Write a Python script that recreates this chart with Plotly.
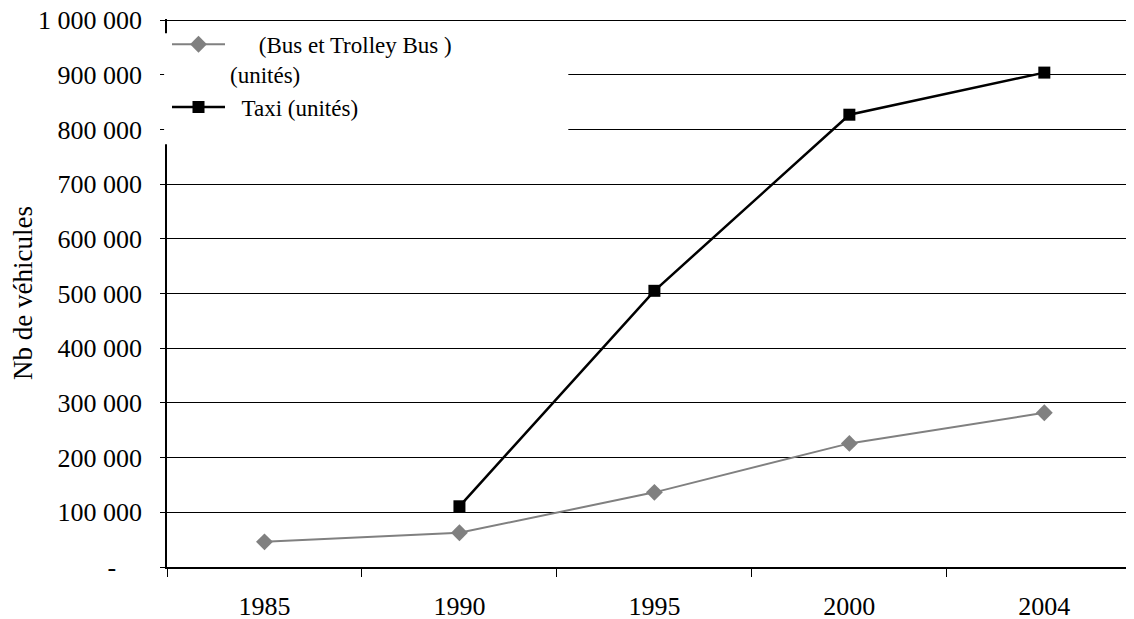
import plotly.graph_objects as go

years = ["1985", "1990", "1995", "2000", "2004"]
bus = [46000, 62500, 136500, 226000, 282000]
taxi = [None, 111000, 505000, 827000, 904000]

y_ticks = [0, 100000, 200000, 300000, 400000, 500000, 600000, 700000, 800000, 900000, 1000000]
nb = "\u00a0"
y_labels = ["-" + nb * 4] + [f"{v:,}".replace(",", nb) for v in y_ticks[1:]]

serif = '"Liberation Serif", "Times New Roman", serif'

fig = go.Figure()
fig.add_trace(go.Scatter(
    x=years, y=bus, mode="lines+markers",
    name=nb * 5 + "(Bus et Trolley Bus )<br>(unités)",
    line=dict(color="#808080", width=2),
    marker=dict(symbol="diamond", size=13, color="#808080"),
))
fig.add_trace(go.Scatter(
    x=years, y=taxi, mode="lines+markers",
    name=nb * 2 + "Taxi (unités)",
    line=dict(color="black", width=2.5),
    marker=dict(symbol="square", size=12, color="black"),
))

# white box behind the legend, it hides the grid and the axis line as in the original
fig.add_shape(type="rect", xref="paper", yref="paper",
              x0=-0.003, x1=0.415, y0=0.7715, y1=0.974,
              fillcolor="white", line_width=0, layer="above")

# page body has an 8px margin, so the figure is 8px smaller than the window
fig.update_layout(
    template="none",
    width=1126, height=611,
    margin=dict(l=159, r=0, t=11, b=52),
    paper_bgcolor="white", plot_bgcolor="white",
    font=dict(family=serif, size=26, color="black"),
    showlegend=True,
    legend=dict(x=0.0, y=0.993, xanchor="left", yanchor="top",
                bgcolor="rgba(0,0,0,0)", borderwidth=0,
                font=dict(family=serif, size=23, color="black"),
                itemwidth=53, valign="top", tracegroupgap=0),
)
fig.update_xaxes(
    type="category", range=[-0.5, 4.46], automargin=False,
    showline=True, linecolor="black", linewidth=1.5,
    showgrid=False, zeroline=False,
    ticks="outside", tickson="boundaries", ticklen=8, tickcolor="black",
    ticklabelstandoff=15, ticklabeloverflow="allow",
    tickfont=dict(family=serif, size=26, color="black"),
)
fig.update_yaxes(
    range=[0, 1002000], automargin=False,
    tickvals=y_ticks, ticktext=y_labels,
    showline=True, linecolor="black", linewidth=1.5,
    showgrid=True, gridcolor="black", gridwidth=1, zeroline=False,
    ticks="outside", ticklen=5, tickcolor="black",
    ticklabelstandoff=13, ticklabeloverflow="allow",
    tickfont=dict(family=serif, size=26, color="black"),
    title=dict(text="Nb de véhicules", font=dict(family=serif, size=27, color="black"), standoff=0),
)

fig.write_html("out.html")
